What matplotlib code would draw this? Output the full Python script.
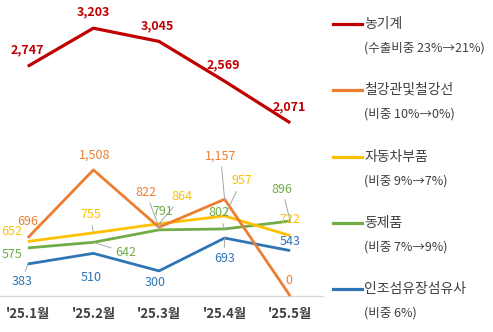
import matplotlib
matplotlib.use("Agg")
import matplotlib.pyplot as plt
from matplotlib.lines import Line2D

plt.rcParams['font.family'] = ['Noto Sans CJK KR', 'DejaVu Sans']

months = ["'25.1월", "'25.2월", "'25.3월", "'25.4월", "'25.5월"]

machinery = [2747, 3203, 3045, 2569, 2071]
steel_pipe = [696, 1508, 822, 1157, 0]
auto_parts = [652, 755, 864, 957, 722]
copper = [575, 642, 791, 802, 896]
synth_fiber = [383, 510, 300, 693, 543]

names = ['농기계', '철강관및철강선', '자동차부품', '동제품', '인조섬유장섬유사']
shares = ['(수출비중 23%→21%)', '(비중 10%→0%)', '(비중 9%→7%)',
          '(비중 7%→9%)', '(비중 6%)']
colors = ['#C00000', '#ED7D31', '#FFC000', '#70AD47', '#2E75B6']

# label offsets in pixels (dx, dy) and whether a leader line is drawn
offsets = [
    [(0, 16, 0), (0, 16, 0), (-2, 16, 0), (-1, 16, 0), (-1, 16, 0)],
    [(0, 16, 0), (1, 15, 0), (-13, 35, 1), (-4, 43, 1), (-1, 16, 0)],
    [(-16, 10, 0), (-3, 18, 1), (23, 27, 1), (17, 35, 1), (0, 16, 0)],
    [(-16, -7, 0), (32, -10, 1), (4, 18, 1), (-6, 16, 1), (-8, 32, 1)],
    [(-6, -18, 1), (-2, -24, 0), (-4, -12, 0), (0, -20, 1), (0, 9, 0)],
]

fig = plt.figure(figsize=(4.93, 3.32), dpi=100)
ax = fig.add_axes([-5 / 493, 36 / 332, 328 / 493, 296 / 332])
ax.set_xlim(-0.5, 4.5)
ax.set_ylim(0, 3540)
for s in ['top', 'right', 'left']:
    ax.spines[s].set_visible(False)
ax.spines['bottom'].set_color('#D9D9D9')
ax.spines['bottom'].set_linewidth(1.0)
ax.set_yticks([])
ax.set_xticks(range(len(months)))
ax.set_xticklabels(months, fontsize=9.5, fontweight='bold', color='#404040')
ax.tick_params(axis='x', length=0, pad=8)

series = [machinery, steel_pipe, auto_parts, copper, synth_fiber]
widths = [2.3, 2.0, 2.0, 2.0, 2.0]
xs = list(range(len(months)))
order = [4, 3, 2, 1, 0]
for i in order:
    ax.plot(xs, series[i], color=colors[i], lw=widths[i],
            solid_capstyle='butt', zorder=3 + (1 if i == 1 else 0), clip_on=False)

for i, vals in enumerate(series):
    for j, v in enumerate(vals):
        dx, dy, lead = offsets[i][j]
        kw = {}
        if lead:
            kw['arrowprops'] = dict(arrowstyle='-', color='#A6A6A6', lw=0.7,
                                    shrinkA=1, shrinkB=0)
        ax.annotate(f'{v:,}', (j, v), xytext=(dx, dy), textcoords='offset pixels',
                    ha='center', va='center', fontsize=9, color=colors[i],
                    fontweight='bold' if i == 0 else 'normal', zorder=6,
                    annotation_clip=False, **kw)

# legend entries on the right
name_y = [24, 90, 157, 223, 289]
for i in range(len(names)):
    y = 1 - name_y[i] / 332
    fig.add_artist(Line2D([333 / 493, 362 / 493], [y, y], color=colors[i],
                          lw=2.3, transform=fig.transFigure))
    fig.text(364 / 493, y, names[i], fontsize=10, color='#404040',
             va='center', ha='left')
    fig.text(364 / 493, 1 - (name_y[i] + 24) / 332, shares[i], fontsize=9,
             color='#404040', va='center', ha='left')

fig.savefig('out.png', dpi=100)
